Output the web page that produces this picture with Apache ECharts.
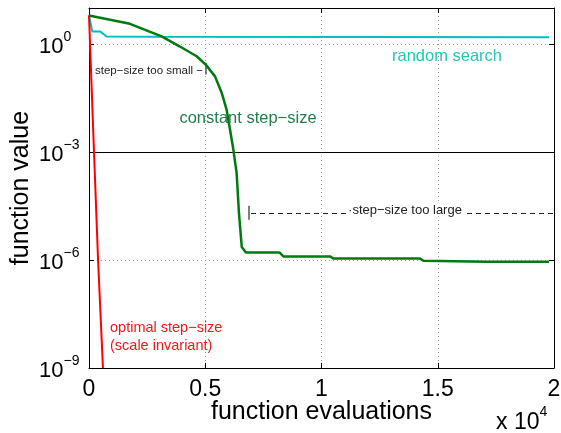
<!DOCTYPE html>
<html><head><meta charset="utf-8">
<script src="https://cdn.jsdelivr.net/npm/echarts@6/dist/echarts.min.js"></script>
<style>html,body{margin:0;padding:0;background:#fff}#c{width:561px;height:433px}</style>
</head><body><div id="c"></div>
<script>
const FONT = '"Liberation Sans", Arial, Helvetica, sans-serif';

// y ticks shown as powers of ten, x ticks in units of 10^4
const yTickExponents = [-9, -6, -3, 0];
const xTickLabels = ['0', '0.5', '1', '1.5', '2'];

// optimal step-size (scale invariant)
const optimalEvals  = [0, 215, 390, 600];
const optimalValues = [6.3, 1e-3, 1e-6, 1e-9];

// random search
const randomEvals  = [0, 140, 470, 760, 3000, 19790];
const randomValues = [6.2, 2.24, 2.24, 1.62, 1.58, 1.55];

// constant step-size
const constantEvals  = [0, 1760, 3125, 3910, 4630, 5030, 5420, 5710, 5920, 6065, 6210, 6350, 6450, 6570, 6750, 8190, 8360, 10370, 10510, 14240, 14380, 17100, 19790];
const constantValues = [6.2, 3.63, 1.62, 0.85, 0.457, 0.263, 0.126, 0.0437, 0.0148, 4.2e-3, 1.15e-3, 2.6e-4, 2.0e-5, 2.3e-6, 1.62e-6, 1.62e-6, 1.26e-6, 1.26e-6, 1.1e-6, 1.1e-6, 9.5e-7, 8.9e-7, 8.9e-7];

const L = Math.log10;
const pairs = (xs, ys) => xs.map((x, i) => [x, L(ys[i])]);

const chart = echarts.init(document.getElementById('c'), null, {renderer: 'canvas'});

const yMin = yTickExponents[0], yMax = 1, yStep = yTickExponents[1] - yTickExponents[0];
const xMin = 0, xMax = 20000, xStep = 5000;

const supLabel = v => {
  if (yTickExponents.indexOf(v) < 0) return '';
  const e = v < 0 ? '\u2212' + (-v) : String(v);
  return '{b|10}{s|' + e + '}';
};

const axisLineStyle = {show: true, onZero: false, lineStyle: {color: '#000', width: 1}};
const tickStyle = {show: true, inside: true, length: 5, lineStyle: {color: '#000'}};

const option = {
  animation: false,
  backgroundColor: '#fff',
  textStyle: {fontFamily: FONT},
  grid: {left: 89, right: 7, top: 8, bottom: 65, containLabel: false, outerBoundsMode: 'none'},
  xAxis: [{
    type: 'value', min: xMin, max: xMax, interval: xStep,
    name: 'function evaluations', nameLocation: 'middle', nameGap: 32, nameMoveOverlap: false,
    nameTextStyle: {fontSize: 25, color: '#000', fontFamily: FONT},
    axisLine: axisLineStyle, axisTick: tickStyle,
    axisLabel: {fontSize: 23, color: '#000', margin: 10, fontFamily: FONT,
      formatter: v => xTickLabels[Math.round(v / xStep)] || ''},
    splitLine: {show: true, lineStyle: {color: '#999', type: [1, 3], width: 1}}
  }, {
    type: 'value', position: 'top', min: xMin, max: xMax, interval: xStep,
    axisLine: axisLineStyle, axisTick: tickStyle,
    axisLabel: {show: false}, splitLine: {show: false}
  }],
  yAxis: [{
    type: 'value', min: yMin, max: yMax, interval: yStep,
    name: 'function value', nameLocation: 'middle', nameGap: 55, nameMoveOverlap: false,
    nameTextStyle: {fontSize: 25, color: '#000', fontFamily: FONT},
    axisLine: axisLineStyle, axisTick: tickStyle,
    axisLabel: {
      align: 'left', margin: 50, formatter: supLabel,
      rich: {
        b: {fontSize: 22, color: '#000', fontFamily: FONT, padding: [5, 0, 0, 0]},
        s: {fontSize: 14, color: '#000', fontFamily: FONT, verticalAlign: 'top'}
      }
    },
    splitLine: {show: true, lineStyle: {color: '#999', type: [1, 3], width: 1}}
  }, {
    type: 'value', position: 'right', min: yMin, max: yMax, interval: yStep,
    axisLine: axisLineStyle, axisTick: tickStyle,
    axisLabel: {show: false}, splitLine: {show: false}
  }],
  series: [
    {
      name: 'random search', type: 'line', showSymbol: false, symbol: 'none',
      data: pairs(randomEvals, randomValues),
      lineStyle: {color: '#00bfbf', width: 2}, z: 3,
      markLine: {
        silent: true, symbol: 'none', animation: false, z: 2,
        label: {show: false},
        data: [
          [{coord: [xMin, -3], lineStyle: {color: '#000', width: 1, type: 'solid'}},
           {coord: [xMax, -3]}],
          [{coord: [6968, -4.69], lineStyle: {color: '#222', width: 1, type: [5, 4]}},
           {coord: [xMax, -4.69]}],
          [{coord: [6852, -4.49], lineStyle: {color: '#555', width: 1.5, type: 'solid'}},
           {coord: [6852, -4.88]}],
          [{coord: [5032, -0.52], lineStyle: {color: '#555', width: 1.5, type: 'solid'}},
           {coord: [5032, -0.85]}]
        ]
      }
    },
    {
      name: 'optimal step-size', type: 'line', showSymbol: false, symbol: 'none',
      data: pairs(optimalEvals, optimalValues),
      lineStyle: {color: '#ff0000', width: 2}, z: 4
    },
    {
      name: 'constant step-size', type: 'line', showSymbol: false, symbol: 'none',
      data: pairs(constantEvals, constantValues),
      lineStyle: {color: '#007a10', width: 2.5}, z: 5
    }
  ],
  graphic: [
    {type: 'text', x: 95, y: 71, z: 10, silent: true,
      style: {text: 'step\u2212size too small \u2212', fontSize: 11.5, fill: '#222', fontFamily: FONT, verticalAlign: 'middle'}},
    {type: 'text', x: 248, y: 118, z: 10, silent: true,
      style: {text: 'constant step\u2212size', fontSize: 16.5, fill: '#1f7f4c', fontFamily: FONT, align: 'center', verticalAlign: 'middle'}},
    {type: 'text', x: 447, y: 56, z: 10, silent: true,
      style: {text: 'random search', fontSize: 16.5, fill: '#29c3b1', fontFamily: FONT, align: 'center', verticalAlign: 'middle'}},
    {type: 'text', x: 405, y: 210, z: 10, silent: true,
      style: {text: '\u00b7step\u2212size too large', fontSize: 13, fill: '#222', fontFamily: FONT, align: 'center', verticalAlign: 'middle',
        backgroundColor: '#fff', padding: [0, 2]}},
    {type: 'text', left: 110, top: 319, z: 10, silent: true,
      style: {text: 'optimal step\u2212size\n(scale invariant)', fontSize: 14.5, lineHeight: 18, fill: '#f01818', fontFamily: FONT}},
    {type: 'text', left: 496, top: 405, z: 10, silent: true,
      style: {text: '{b|x 10}{s|4}', fontFamily: FONT,
        rich: {b: {fontSize: 23, fill: '#000', fontFamily: FONT, padding: [6, 0, 0, 0]},
               s: {fontSize: 14, fill: '#000', fontFamily: FONT, verticalAlign: 'top'}}}}
  ]
};
chart.setOption(option);
</script>
</body></html>
